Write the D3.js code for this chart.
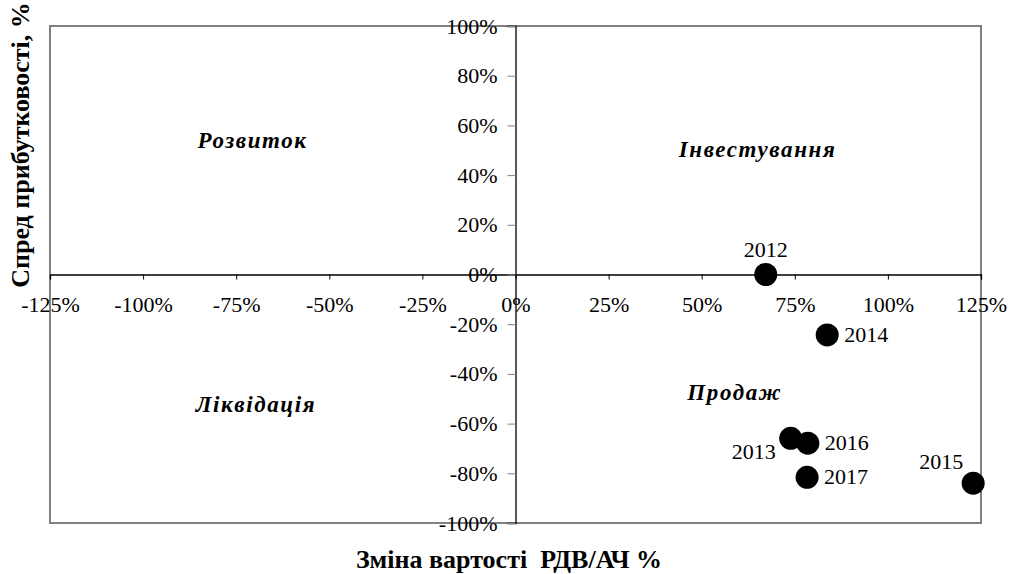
<!DOCTYPE html>
<html>
<head>
<meta charset="utf-8">
<script src="https://cdn.jsdelivr.net/npm/d3@7"></script>
<style>
  body { margin: 0; background: #fff; }
  svg text { font-family: "Times New Roman", "Liberation Serif", "DejaVu Serif", serif; fill: #000; }
</style>
</head>
<body>
<div id="chart"></div>
<script>
// data (percent)
var years = ["2012", "2013", "2014", "2015", "2016", "2017"];
var xValues = [67.2, 73.9, 83.7, 122.9, 78.5, 78.3];
var yValues = [0, -65.9, -24.3, -84, -67.9, -81.6];
var labelSide = ["top", "left", "right", "topleft", "right", "right"];

var xTicks = [-125, -100, -75, -50, -25, 0, 25, 50, 75, 100, 125];
var yTicks = [-100, -80, -60, -40, -20, 0, 20, 40, 60, 80, 100];

var quadrants = ["Розвиток", "Інвестування", "Ліквідація", "Продаж"];
var quadrantX = [-70.6, 65, -69.7, 58.9];
var quadrantY = [51, 47.3, -55.3, -50.5];

var xTitle = "Зміна вартості  РДВ/АЧ %";
var yTitle = "Спред прибутковості, %";

var width = 1009, height = 574;
var plotLeft = 50, plotRight = 981, plotTop = 26, plotBottom = 523;
var serif = "'Times New Roman', 'Liberation Serif', 'DejaVu Serif', serif";

var svg = d3.select("#chart")
    .append("svg")
    .attr("width", width)
    .attr("height", height)
    .attr("font-family", serif);

var x = d3.scaleLinear().domain([-125, 125]).range([plotLeft, plotRight]);
var y = d3.scaleLinear().domain([-100, 100]).range([plotBottom, plotTop]);

// plot border
svg.append("rect")
    .attr("x", plotLeft)
    .attr("y", plotTop)
    .attr("width", plotRight - plotLeft)
    .attr("height", plotBottom - plotTop)
    .style("fill", "none")
    .style("stroke", "#808080")
    .style("stroke-width", 2);

// x axis through zero
var xAxis = svg.append("g")
    .attr("transform", "translate(0," + y(0) + ")")
    .call(d3.axisBottom(x).tickValues(xTicks).tickSize(5).tickPadding(17)
        .tickFormat(function(d) { return d + "%"; }));

// y axis through zero
var yAxis = svg.append("g")
    .attr("transform", "translate(" + x(0) + ",0)")
    .call(d3.axisLeft(y).tickValues(yTicks).tickSize(8).tickPadding(10)
        .tickFormat(function(d) { return d + "%"; }));

[xAxis, yAxis].forEach(function(a) {
    a.attr("font-family", serif).attr("font-size", 22);
    a.select(".domain").style("stroke", "#000").style("stroke-width", 1.3);
    a.selectAll(".tick line").style("stroke", "#000");
    a.selectAll(".tick text")
        .style("font-family", serif)
        .style("font-size", "22px")
        .style("fill", "#000");
});
yAxis.selectAll(".tick line").style("stroke", "#808080");

// quadrant names
svg.selectAll(".quad")
    .data(quadrants)
    .enter().append("text")
    .attr("class", "quad")
    .attr("x", function(d, i) { return x(quadrantX[i]); })
    .attr("y", function(d, i) { return y(quadrantY[i]); })
    .attr("text-anchor", "middle")
    .style("font-size", "23px")
    .style("font-weight", "bold")
    .style("font-style", "italic")
    .style("letter-spacing", "1.6px")
    .text(function(d) { return d; });

// points
svg.selectAll(".pt")
    .data(years)
    .enter().append("circle")
    .attr("class", "pt")
    .attr("cx", function(d, i) { return x(xValues[i]); })
    .attr("cy", function(d, i) { return y(yValues[i]); })
    .attr("r", 11.5)
    .style("fill", "#000");

function labelX(i) {
    var cx = x(xValues[i]);
    var s = labelSide[i];
    if (s == "right") return cx + 17;
    if (s == "left") return cx - 15;
    if (s == "topleft") return cx - 10;
    return cx;
}
function labelY(i) {
    var cy = y(yValues[i]);
    var s = labelSide[i];
    if (s == "top") return cy - 18;
    if (s == "topleft") return cy - 14;
    if (s == "left") return cy + 21;
    return cy + 7;
}

svg.selectAll(".lbl")
    .data(years)
    .enter().append("text")
    .attr("class", "lbl")
    .attr("x", function(d, i) { return labelX(i); })
    .attr("y", function(d, i) { return labelY(i); })
    .attr("text-anchor", function(d, i) {
        var s = labelSide[i];
        if (s == "right") return "start";
        if (s == "top") return "middle";
        return "end";
    })
    .style("font-size", "22px")
    .text(function(d) { return d; });

// axis titles
svg.append("text")
    .attr("x", 509)
    .attr("y", 568)
    .attr("text-anchor", "middle")
    .style("font-size", "26px")
    .style("font-weight", "bold")
    .style("white-space", "pre")
    .text(xTitle);

svg.append("text")
    .attr("transform", "translate(29,145) rotate(-90)")
    .attr("text-anchor", "middle")
    .style("font-size", "26px")
    .style("font-weight", "bold")
    .text(yTitle);
</script>
</body>
</html>
